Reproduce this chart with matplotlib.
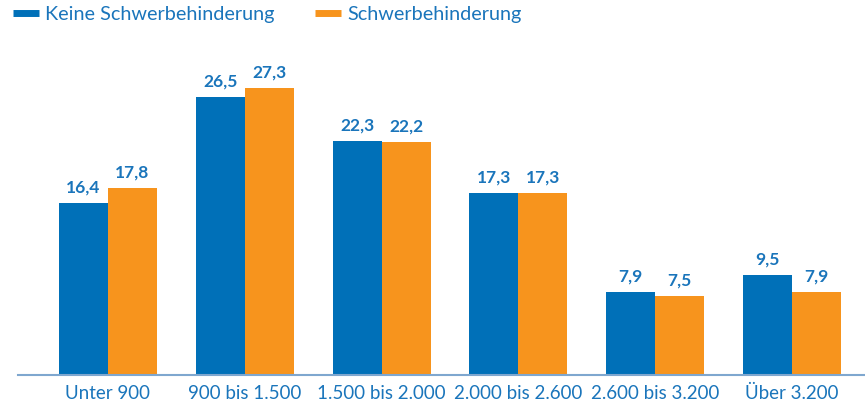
import matplotlib.pyplot as plt
from matplotlib.lines import Line2D
import numpy as np

plt.rcParams['font.family'] = ['Lato', 'DejaVu Sans']

categories = ['Unter 900', '900 bis 1.500', '1.500 bis 2.000', '2.000 bis 2.600', '2.600 bis 3.200', 'Über 3.200']
keine = [16.4, 26.5, 22.3, 17.3, 7.9, 9.5]
schwer = [17.8, 27.3, 22.2, 17.3, 7.5, 7.9]
series_names = ['Keine Schwerbehinderung', 'Schwerbehinderung']

blue = '#0070b8'
orange = '#f7941d'
text_blue = '#1a75bb'

fig = plt.figure(figsize=(8.65, 4.03), dpi=100)
ax = fig.add_axes([18 / 865, 28 / 403, 847 / 865, 335 / 403])

x = np.arange(len(categories))
w = 0.358
b1 = ax.bar(x - w / 2, keine, w, color=blue)
b2 = ax.bar(x + w / 2, schwer, w, color=orange)

for bars, vals in [(b1, keine), (b2, schwer)]:
    for bar, v in zip(bars, vals):
        ax.text(bar.get_x() + bar.get_width() / 2, v + 0.7, f'{v:.1f}'.replace('.', ','),
                ha='center', va='bottom', color=text_blue, fontsize=12.5, fontweight='bold')

ax.set_xlim(-0.657, 5.533)
ax.set_ylim(0, 31.9)
ax.set_xticks(x)
ax.set_xticklabels(categories, color=text_blue, fontsize=13.5)
ax.tick_params(axis='x', length=0, pad=7)
ax.set_yticks([])
for s in ['top', 'right', 'left']:
    ax.spines[s].set_visible(False)
ax.spines['bottom'].set_color('#7fa7cf')
ax.spines['bottom'].set_linewidth(1.5)

handles = [Line2D([0], [0], color=blue, lw=5, solid_capstyle='butt'),
           Line2D([0], [0], color=orange, lw=5, solid_capstyle='butt')]
leg = fig.legend(handles, series_names, loc='upper left', bbox_to_anchor=(-0.006, 1.03), ncol=2,
                 frameon=False, fontsize=14.3, handlelength=1.35, columnspacing=2.0, handletextpad=0.3)
for t in leg.get_texts():
    t.set_color(text_blue)

fig.savefig('out.png', dpi=100)
